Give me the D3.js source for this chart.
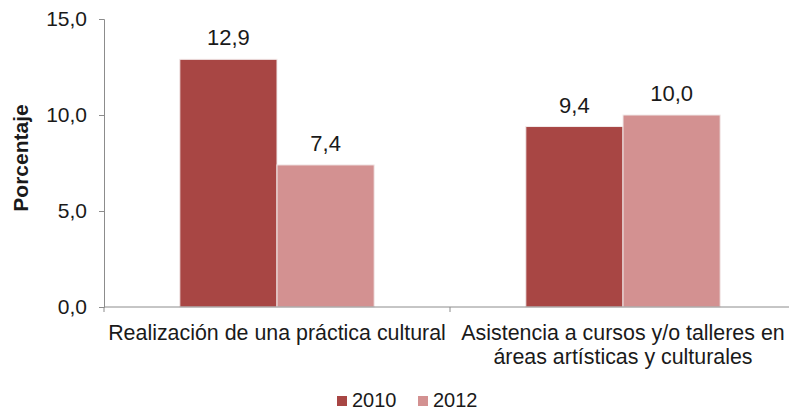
<!DOCTYPE html>
<html>
<head>
<meta charset="utf-8">
<script src="https://cdn.jsdelivr.net/npm/d3@7"></script>
<style>
  body { margin: 0; background: #fff; }
  svg { display: block; font-family: "Liberation Sans", Arial, sans-serif; }
</style>
</head>
<body>
<svg id="chart"></svg>
<script>
// data
const categories = [
  ["Realización de una práctica cultural"],
  ["Asistencia a cursos y/o talleres en", "áreas artísticas y culturales"]
];
const years = ["2010", "2012"];
const values2010 = [12.9, 9.4];
const values2012 = [7.4, 10.0];
const yTicks = [0, 5, 10, 15];
const colors = ["#a84644", "#d39191"];

const width = 789, height = 413;
const svg = d3.select("#chart").attr("width", width).attr("height", height);

const x0 = d3.scaleBand()
    .domain(d3.range(categories.length))
    .range([104, 796])
    .paddingInner(0)
    .paddingOuter(0);

const x1 = d3.scaleBand()
    .domain(years)
    .range([0, x0.bandwidth()])
    .paddingInner(0)
    .paddingOuter(0.78);

const y = d3.scaleLinear().domain([0, 15]).range([307, 19]);

const fmt = v => d3.format(".1f")(v).replace(".", ",");

// bars
const series = [values2010, values2012];
const grp = svg.append("g")
    .selectAll("g")
    .data(categories)
    .join("g")
    .attr("transform", (d, i) => `translate(${x0(i)},0)`);

grp.selectAll("rect")
    .data((d, i) => years.map((yr, j) => ({ yr, j, v: series[j][i] })))
    .join("rect")
    .attr("x", d => x1(d.yr))
    .attr("y", d => y(d.v))
    .attr("width", x1.bandwidth())
    .attr("height", d => y(0) - y(d.v))
    .attr("fill", d => colors[d.j])
    .attr("stroke", "#f2eaea")
    .attr("stroke-width", 1);

grp.selectAll("text.val")
    .data((d, i) => years.map((yr, j) => ({ yr, j, v: series[j][i] })))
    .join("text")
    .attr("class", "val")
    .attr("x", d => x1(d.yr) + x1.bandwidth() / 2)
    .attr("y", d => y(d.v) - 14)
    .attr("text-anchor", "middle")
    .attr("font-size", 22)
    .attr("fill", "#1a1a1a")
    .text(d => fmt(d.v));

// y axis
const yAxis = svg.append("g")
    .attr("transform", "translate(104,0)")
    .call(d3.axisLeft(y).tickValues(yTicks).tickFormat(fmt).tickSize(5).tickPadding(12));
yAxis.select(".domain").attr("stroke", "#8c8c8c");
yAxis.selectAll(".tick line").attr("stroke", "#8c8c8c");
yAxis.selectAll(".tick text")
    .attr("font-size", 21)
    .attr("fill", "#1a1a1a")
    .attr("font-family", "Liberation Sans, Arial, sans-serif");

svg.append("text")
    .attr("transform", "translate(28,158) rotate(-90)")
    .attr("text-anchor", "middle")
    .attr("font-size", 21)
    .attr("font-weight", "bold")
    .attr("fill", "#1a1a1a")
    .text("Porcentaje");

// x axis line and boundary ticks
svg.append("line")
    .attr("x1", 104).attr("x2", 796)
    .attr("y1", y(0)).attr("y2", y(0))
    .attr("stroke", "#8c8c8c");
svg.append("g")
    .selectAll("line")
    .data(d3.range(categories.length + 1))
    .join("line")
    .attr("x1", i => 104 + i * x0.bandwidth())
    .attr("x2", i => 104 + i * x0.bandwidth())
    .attr("y1", y(0)).attr("y2", y(0) + 5)
    .attr("stroke", "#8c8c8c");

// category labels
svg.append("g")
    .selectAll("text")
    .data(categories)
    .join("text")
    .attr("x", (d, i) => x0(i) + x0.bandwidth() / 2)
    .attr("y", 340)
    .attr("text-anchor", "middle")
    .attr("font-size", 21.4)
    .attr("fill", "#1a1a1a")
    .selectAll("tspan")
    .data(d => d)
    .join("tspan")
    .attr("x", function () { return this.parentNode.getAttribute("x"); })
    .attr("dy", (d, i) => i === 0 ? 0 : 24)
    .text(d => d);

// legend
const leg = svg.append("g")
    .selectAll("g")
    .data(years)
    .join("g")
    .attr("transform", (d, i) => `translate(${337 + i * 81},396)`);
leg.append("rect")
    .attr("width", 10).attr("height", 10)
    .attr("fill", (d, i) => colors[i]);
leg.append("text")
    .attr("x", 15).attr("y", 11)
    .attr("font-size", 20)
    .attr("fill", "#1a1a1a")
    .text(d => d);
</script>
</body>
</html>
